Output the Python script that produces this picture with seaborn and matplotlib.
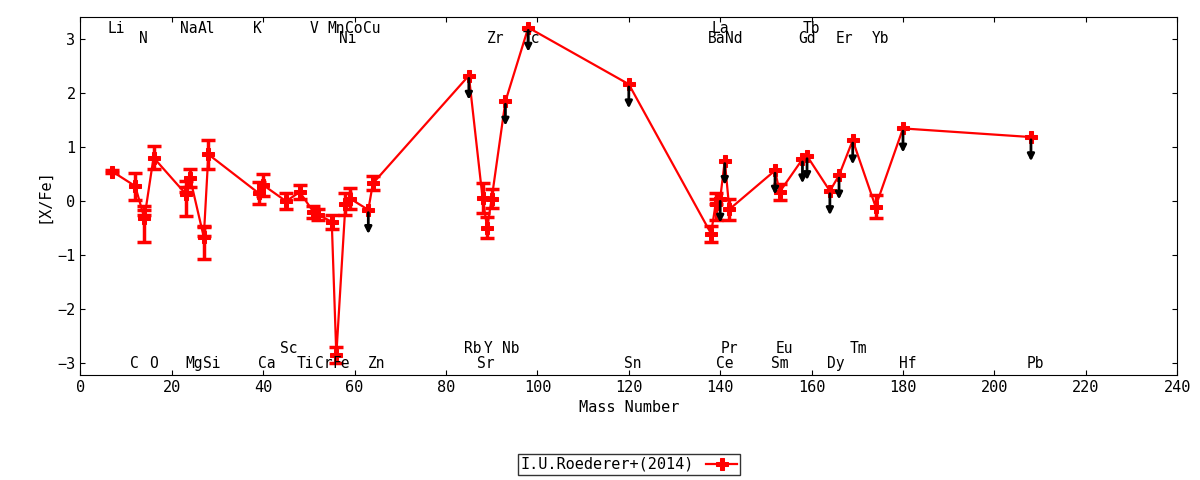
import matplotlib.pyplot as plt
import numpy as np
import pandas as pd
import seaborn as sns

# abundance data
mass = [7, 12, 14, 14, 16, 23, 23, 24, 27, 27, 28, 39, 40, 45, 48, 51, 52, 55, 56, 58, 59, 63, 64,
        85, 88, 89, 90, 93, 98, 120, 138, 139, 139, 140, 141, 142, 152, 153, 158, 159, 164, 166, 169,
        174, 180, 208]
xfe = [0.55, 0.28, -0.17, -0.46, 0.81, 0.0, 0.28, 0.43, -0.55, -0.78, 0.87, 0.15, 0.3, 0.0, 0.17,
       -0.2, -0.25, -0.38, -2.85, -0.05, 0.05, -0.16, 0.33,
       2.33, 0.06, -0.49, 0.05, 1.85, 3.22, 2.17, -0.6, -0.15, 0.05, 0.05, 0.75, -0.15, 0.57, 0.17,
       0.78, 0.84, 0.19, 0.48, 1.13, -0.1, 1.35, 1.19]
err = [0.03, 0.25, 0.08, 0.3, 0.22, 0.27, 0.1, 0.17, 0.1, 0.3, 0.27, 0.2, 0.2, 0.15, 0.13,
       0.12, 0.1, 0.13, 0.15, 0.2, 0.2, 0.0, 0.13,
       0.0, 0.28, 0.2, 0.18, 0.0, 0.0, 0.0, 0.15, 0.2, 0.1, 0.0, 0.0, 0.2, 0.0, 0.15,
       0.0, 0.0, 0.0, 0.0, 0.0, 0.22, 0.0, 0.0]
uplim = [0, 0, 0, 0, 0, 0, 0, 0, 0, 0, 0, 0, 0, 0, 0, 0, 0, 0, 0, 0, 0, 1, 0,
         1, 0, 0, 0, 1, 1, 1, 0, 0, 0, 1, 1, 0, 1, 0, 1, 1, 1, 1, 1, 0, 1, 1]

# element labels: name, x position (mass), row
el_names = ['Li', 'Na', 'Al', 'K', 'V', 'Mn', 'Co', 'Cu', 'La', 'Tb',
            'N', 'Ni', 'Zr', 'Tc', 'Ba', 'Nd', 'Gd', 'Er', 'Yb',
            'C', 'O', 'Mg', 'Si', 'Ca', 'Ti', 'Cr', 'Fe', 'Zn', 'Sr', 'Sn', 'Ce', 'Sm', 'Dy', 'Hf', 'Pb',
            'Sc', 'Rb', 'Y', 'Nb', 'Pr', 'Eu', 'Tm']
el_mass = [7.8, 23.6, 27.6, 38.7, 51, 56, 59.9, 63.7, 140, 160,
           13.8, 58.6, 90.8, 98.6, 139.3, 143, 159, 167.1, 175,
           11.8, 16, 24.9, 28.7, 40.7, 49.2, 53.2, 57.1, 64.9, 88.8, 120.8, 141.1, 153.1, 165.2, 181.1, 209,
           45.7, 85.9, 89.3, 94.1, 142, 154, 170.2]
el_y = [3.2] * 10 + [3.02] * 9 + [-3.0] * 16 + [-2.74] * 7

df = pd.DataFrame({'mass': mass, 'xfe': xfe, 'err': err, 'uplim': uplim})

plt.rcParams['font.family'] = ['DejaVu Sans Mono']
fig, ax = plt.subplots(figsize=(12, 4.8), dpi=100)
fig.subplots_adjust(left=0.067, right=0.981, top=0.965, bottom=0.219)

sns.lineplot(data=df, x='mass', y='xfe', sort=False, color='red', lw=1.6, ax=ax,
             label='I.U.Roederer+(2014)', marker='P', markersize=8, mec='red')
det = df[df['uplim'] == 0]
ax.errorbar(det['mass'], det['xfe'], yerr=det['err'], fmt='none', ecolor='red',
            elinewidth=2.5, capsize=5, capthick=2.5)
lim = df[df['uplim'] == 1]
for m, v in zip(lim['mass'], lim['xfe']):
    ax.annotate('', xy=(m, v - 0.5), xytext=(m, v),
                arrowprops=dict(arrowstyle='-|>', color='black', lw=2, mutation_scale=10))

for n, m, y in zip(el_names, el_mass, el_y):
    ax.text(m, y, n, ha='center', va='center', fontsize=10.5, stretch='condensed')

ax.set_xlim(0, 240)
ax.set_ylim(-3.22, 3.42)
ax.set_xticks(range(0, 241, 20))
ax.set_yticks(range(-3, 4))
ax.tick_params(direction='in', top=True, right=True, labelsize=11)
ax.set_xlabel('Mass Number', fontsize=11)
ax.set_ylabel('[X/Fe]', fontsize=11)
ax.legend(loc='center', bbox_to_anchor=(0.5, -0.25), frameon=True, fancybox=False,
          edgecolor='black', fontsize=11, markerfirst=False, borderpad=0.2)

fig.savefig('out.png')
